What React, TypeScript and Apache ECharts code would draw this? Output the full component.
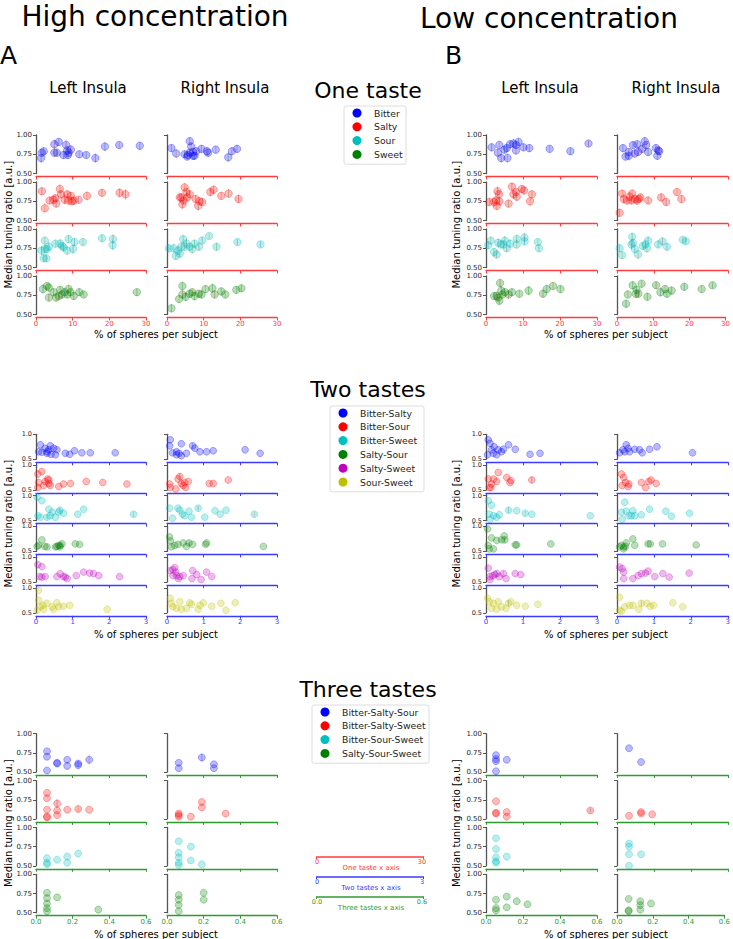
import React, { useEffect, useRef } from "react";
import * as echarts from "echarts";

// ================= DATA =================
// Points: [x (% of spheres per subject), y (median tuning ratio), optional error]

// ---- One taste, high concentration, left insula ----
const oneHL_Bitter = [[1.4,0.70,0.06],[1.6,0.77,0.05],[2.1,0.79,0.05],[5.0,0.88,0.06],[6.2,0.91,0.05],[5.0,0.77,0.06],[5.7,0.77,0.05],[8.2,0.87,0.07],[7.5,0.74,0.05],[8.5,0.80,0.06],[8.9,0.77,0.05],[9.5,0.81,0.06],[8.7,0.74,0.05],[11.8,0.75,0.05],[13.7,0.74,0.04],[16.2,0.70,0.06],[18.8,0.85,0.06],[22.7,0.87,0.05],[28.3,0.86,0.05]];
const oneHL_Salty = [[1.6,0.88,0.05],[2.4,0.66,0.06],[3.7,0.76,0.05],[4.8,0.77,0.06],[5.5,0.72,0.05],[6.5,0.91,0.06],[6.8,0.84,0.05],[7.8,0.77,0.06],[8.5,0.84,0.05],[8.9,0.76,0.06],[9.5,0.82,0.05],[10.3,0.76,0.05],[11.6,0.77,0.04],[13.9,0.82,0.06],[18.0,0.86,0.05],[22.8,0.86,0.06],[24.4,0.84,0.07],[5.3,0.79,0.05],[9.8,0.75,0.05]];
const oneHL_Sour = [[1.5,0.72,0.06],[2.4,0.85,0.05],[2.4,0.74,0.06],[2.8,0.62,0.05],[3.5,0.77,0.06],[5.3,0.81,0.05],[6.6,0.81,0.06],[7.1,0.78,0.05],[7.5,0.76,0.05],[8.5,0.72,0.06],[8.9,0.87,0.05],[10.1,0.74,0.06],[10.5,0.83,0.05],[12.8,0.83,0.05],[18.0,0.88,0.05],[21.0,0.87,0.06],[20.9,0.79,0.06],[3.0,0.74,0.05],[2.1,0.62,0.05]];
const oneHL_Sweet = [[1.9,0.83,0.06],[3.0,0.87,0.05],[3.5,0.85,0.06],[3.5,0.72,0.05],[4.8,0.79,0.05],[5.5,0.72,0.06],[6.6,0.82,0.05],[7.1,0.76,0.06],[7.8,0.79,0.05],[8.9,0.83,0.06],[9.4,0.79,0.05],[10.3,0.74,0.05],[11.8,0.79,0.05],[13.0,0.76,0.04],[27.5,0.79,0.05],[6.2,0.74,0.05],[8.5,0.76,0.05]];
// ---- One taste, high concentration, right insula ----
const oneHR_Bitter = [[1.2,0.83,0.05],[2.5,0.76,0.06],[4.8,0.75,0.05],[5.7,0.74,0.06],[6.2,0.92,0.05],[6.6,0.85,0.06],[6.2,0.77,0.05],[7.1,0.78,0.06],[7.5,0.73,0.05],[8.0,0.79,0.05],[9.4,0.82,0.05],[10.9,0.79,0.06],[11.2,0.77,0.05],[13.3,0.81,0.05],[16.7,0.71,0.06],[17.7,0.79,0.05],[19.1,0.82,0.05],[5.5,0.72,0.05],[7.1,0.73,0.05]];
const oneHR_Salty = [[3.9,0.80,0.05],[4.8,0.93,0.06],[5.3,0.87,0.05],[4.2,0.71,0.06],[4.5,0.76,0.05],[5.5,0.80,0.06],[6.2,0.84,0.05],[7.8,0.78,0.05],[8.5,0.69,0.06],[8.9,0.75,0.05],[9.6,0.74,0.05],[11.8,0.87,0.05],[12.7,0.90,0.05],[14.8,0.82,0.05],[16.8,0.85,0.06],[19.5,0.78,0.05],[3.5,0.80,0.05]];
const oneHR_Sour = [[0.5,0.75,0.05],[1.8,0.75,0.06],[2.4,0.65,0.05],[3.0,0.72,0.06],[3.5,0.68,0.05],[3.9,0.77,0.06],[4.4,0.87,0.05],[5.3,0.81,0.06],[6.2,0.77,0.05],[6.9,0.74,0.06],[7.5,0.81,0.05],[8.7,0.77,0.05],[9.6,0.85,0.05],[11.5,0.91,0.04],[13.5,0.77,0.05],[19.2,0.83,0.04],[25.5,0.80,0.04],[4.8,0.77,0.05]];
const oneHR_Sweet = [[1.2,0.58,0.05],[3.3,0.70,0.05],[4.2,0.87,0.06],[4.2,0.76,0.05],[5.1,0.73,0.06],[6.9,0.79,0.05],[7.5,0.74,0.06],[8.7,0.77,0.05],[9.4,0.76,0.05],[10.5,0.83,0.05],[12.4,0.84,0.06],[13.0,0.76,0.05],[14.8,0.80,0.05],[15.9,0.76,0.05],[18.9,0.82,0.05],[20.3,0.84,0.05],[6.2,0.77,0.05]];
// ---- One taste, low concentration, left insula ----
const oneLL_Bitter = [[1.5,0.84,0.05],[3.6,0.87,0.06],[3.2,0.77,0.05],[4.1,0.70,0.06],[5.0,0.81,0.05],[5.8,0.70,0.06],[6.5,0.88,0.05],[7.4,0.89,0.06],[8.1,0.87,0.05],[8.1,0.80,0.06],[8.8,0.91,0.05],[10.1,0.84,0.05],[11.7,0.83,0.05],[17.2,0.82,0.05],[22.8,0.79,0.05],[27.7,0.89,0.04],[5.6,0.83,0.05]];
const oneLL_Salty = [[0.9,0.74,0.05],[2.2,0.74,0.06],[2.7,0.76,0.05],[3.1,0.88,0.06],[3.5,0.84,0.05],[2.9,0.69,0.06],[6.1,0.72,0.05],[7.0,0.94,0.05],[7.4,0.84,0.06],[8.1,0.87,0.05],[8.3,0.81,0.06],[9.7,0.91,0.05],[10.3,0.89,0.05],[11.9,0.75,0.06],[12.4,0.84,0.05],[3.6,0.75,0.05]];
const oneLL_Sour = [[0.6,0.79,0.05],[1.3,0.85,0.05],[2.2,0.70,0.06],[2.9,0.67,0.05],[3.3,0.82,0.06],[4.0,0.80,0.05],[5.1,0.85,0.06],[5.6,0.75,0.05],[6.5,0.81,0.05],[8.3,0.80,0.06],[8.3,0.87,0.05],[10.4,0.89,0.06],[10.4,0.84,0.05],[14.0,0.83,0.05],[14.3,0.75,0.05],[4.7,0.80,0.05]];
const oneLL_Sweet = [[2.2,0.74,0.05],[2.9,0.74,0.06],[3.6,0.68,0.06],[3.8,0.91,0.05],[4.1,0.81,0.06],[4.5,0.76,0.05],[5.1,0.79,0.05],[6.1,0.76,0.06],[7.0,0.79,0.05],[9.0,0.77,0.05],[11.5,0.81,0.06],[15.4,0.77,0.05],[16.4,0.83,0.05],[18.1,0.87,0.05],[20.1,0.83,0.05],[3.3,0.72,0.05]];
// ---- One taste, low concentration, right insula ----
const oneLR_Bitter = [[1.6,0.83,0.05],[2.3,0.72,0.05],[3.2,0.73,0.06],[3.2,0.78,0.05],[4.3,0.87,0.05],[4.8,0.76,0.06],[5.5,0.88,0.05],[5.7,0.78,0.05],[7.5,0.92,0.05],[7.9,0.87,0.06],[8.4,0.78,0.05],[10.5,0.83,0.05],[10.9,0.73,0.05],[11.1,0.80,0.05],[11.4,0.79,0.05],[6.8,0.82,0.05]];
const oneLR_Salty = [[0.7,0.60,0.05],[1.4,0.85,0.05],[1.8,0.78,0.06],[2.7,0.76,0.05],[3.4,0.81,0.06],[4.1,0.85,0.05],[4.8,0.78,0.05],[5.4,0.76,0.06],[5.9,0.78,0.05],[6.3,0.80,0.05],[8.4,0.76,0.05],[11.9,0.80,0.05],[13.3,0.74,0.05],[16.2,0.87,0.05],[17.4,0.78,0.05],[3.9,0.76,0.05]];
const oneLR_Sour = [[0.7,0.75,0.05],[1.4,0.66,0.05],[4.1,0.90,0.05],[3.9,0.80,0.06],[4.8,0.74,0.05],[5.7,0.67,0.06],[7.0,0.78,0.05],[7.7,0.80,0.05],[8.4,0.85,0.05],[8.1,0.75,0.06],[11.1,0.80,0.05],[12.3,0.84,0.05],[13.5,0.77,0.05],[17.8,0.86,0.04],[18.6,0.84,0.04],[4.3,0.82,0.05]];
const oneLR_Sweet = [[2.5,0.64,0.05],[3.0,0.76,0.05],[4.3,0.88,0.05],[5.2,0.77,0.06],[5.4,0.82,0.05],[6.8,0.90,0.05],[8.4,0.73,0.05],[10.8,0.88,0.05],[12.0,0.79,0.06],[13.3,0.83,0.05],[13.8,0.77,0.05],[15.1,0.81,0.05],[18.6,0.86,0.05],[23.4,0.83,0.05],[26.4,0.88,0.04],[5.9,0.77,0.05]];

// ---- Two tastes, high concentration, left insula ----
const twoHL_BitterSalty = [[0.12,0.79],[0.16,0.64],[0.25,0.72],[0.30,0.62],[0.35,0.69],[0.39,0.77],[0.41,0.60],[0.48,0.72],[0.53,0.59],[0.57,0.69],[0.80,0.62],[0.92,0.60],[1.05,0.67],[1.25,0.63],[1.48,0.63],[2.16,0.63],[0.07,0.65],[0.30,0.65]];
const twoHL_BitterSour = [[0.05,0.82],[0.16,0.87],[0.07,0.65],[0.05,0.55],[0.25,0.67],[0.32,0.72],[0.35,0.63],[0.39,0.59],[0.62,0.57],[0.75,0.62],[0.94,0.63],[1.37,0.67],[1.82,0.65],[2.48,0.62],[0.21,0.59],[0.35,0.70]];
const twoHL_BitterSweet = [[0.03,0.97],[0.16,0.90],[0.05,0.60],[0.12,0.57],[0.35,0.73],[0.39,0.60],[0.44,0.67],[0.53,0.57],[0.62,0.67],[0.65,0.71,0.05],[0.75,0.65],[1.14,0.63],[1.30,0.73],[2.66,0.63,0.05],[0.30,0.57,0.05]];
const twoHL_SaltySour = [[0.07,0.62],[0.16,0.73],[0.24,0.60],[0.30,0.59],[0.57,0.60],[0.62,0.62],[0.66,0.62,0.05],[0.71,0.65],[0.65,0.59],[1.07,0.65],[1.19,0.64],[0.03,0.60],[0.53,0.59]];
const twoHL_SaltySweet = [[0.05,0.85],[0.16,0.81],[0.10,0.61],[0.16,0.60],[0.25,0.61],[0.57,0.61],[0.66,0.67],[0.75,0.61],[0.85,0.57],[0.80,0.60],[1.10,0.63],[1.30,0.70],[1.46,0.68],[1.57,0.67],[1.71,0.63],[2.28,0.61]];
const twoHL_SourSweet = [[0.07,0.95],[0.07,0.75],[0.12,0.62],[0.21,0.57],[0.19,0.65],[0.30,0.69],[0.44,0.62],[0.48,0.57],[0.57,0.70],[0.62,0.62],[0.75,0.63],[0.92,0.65],[1.94,0.57],[0.03,0.55]];
// ---- Two tastes, high concentration, right insula ----
const twoHR_BitterSalty = [[0.09,0.89],[0.07,0.77],[0.15,0.63],[0.26,0.65],[0.39,0.81],[0.33,0.62],[0.39,0.57],[0.53,0.62],[0.70,0.77,0.05],[0.76,0.72],[0.90,0.65],[1.08,0.65],[1.26,0.67],[2.13,0.69],[2.54,0.62],[0.26,0.59]];
const twoHR_BitterSour = [[0.07,0.62],[0.09,0.55],[0.24,0.52],[0.30,0.72],[0.35,0.77,0.06],[0.39,0.63],[0.48,0.65],[0.51,0.55],[0.58,0.67],[1.15,0.63],[1.26,0.63],[1.67,0.70],[0.44,0.59]];
const twoHR_BitterSweet = [[0.07,0.75],[0.15,0.55],[0.30,0.75],[0.35,0.71],[0.42,0.63],[0.48,0.60],[0.60,0.69],[0.67,0.57],[0.85,0.75,0.05],[1.03,0.57],[1.31,0.70],[1.45,0.63],[1.61,0.71],[2.38,0.63,0.05]];
const twoHR_SaltySour = [[0.07,0.79],[0.09,0.71],[0.12,0.59],[0.21,0.62],[0.30,0.64],[0.44,0.67],[0.53,0.60],[0.60,0.67,0.05],[0.70,0.64],[1.05,0.64],[1.08,0.67],[2.63,0.60]];
const twoHR_SaltySweet = [[0.09,0.73],[0.16,0.75],[0.24,0.70],[0.16,0.63],[0.26,0.63],[0.35,0.61],[0.44,0.63],[0.31,0.57],[0.70,0.73],[0.68,0.57],[0.81,0.65],[0.93,0.55],[1.08,0.70],[1.22,0.61],[0.21,0.79]];
const twoHR_SourSweet = [[0.09,0.79],[0.12,0.69],[0.16,0.62],[0.26,0.59],[0.35,0.72],[0.39,0.57],[0.53,0.59],[0.62,0.70],[0.67,0.67],[0.85,0.57],[0.99,0.70],[1.22,0.63],[1.47,0.69],[1.61,0.55],[1.86,0.70],[0.90,0.65]];
// ---- Two tastes, low concentration, left insula ----
const twoLL_BitterSalty = [[0.06,0.89],[0.11,0.82],[0.04,0.59],[0.15,0.69],[0.22,0.75],[0.29,0.59],[0.33,0.69],[0.42,0.65],[0.47,0.70],[0.61,0.79],[0.79,0.70],[1.19,0.60],[1.46,0.62],[0.20,0.62]];
const twoLL_BitterSour = [[0.06,0.72],[0.09,0.55],[0.13,0.55],[0.20,0.72],[0.33,0.85],[0.29,0.67],[0.56,0.75],[0.65,0.65],[0.67,0.69],[1.24,0.70,0.06],[0.15,0.62]];
const twoLL_BitterSweet = [[0.06,0.90],[0.15,0.81],[0.09,0.63],[0.11,0.53],[0.20,0.60],[0.36,0.62],[0.61,0.71,0.06],[0.83,0.70],[1.06,0.65,0.05],[1.24,0.63],[2.82,0.60],[0.29,0.57]];
const twoLL_SaltySour = [[0.04,0.95],[0.15,0.77],[0.06,0.62],[0.09,0.55],[0.29,0.72],[0.42,0.73],[0.49,0.81],[0.51,0.73,0.06],[0.79,0.63],[0.83,0.63],[1.75,0.65],[0.20,0.55]];
const twoLL_SaltySweet = [[0.06,0.78],[0.11,0.61],[0.18,0.63],[0.29,0.67,0.06],[0.24,0.65],[0.36,0.61],[0.47,0.67,0.06],[0.54,0.57],[0.79,0.67],[0.94,0.65],[0.11,0.55]];
const twoLL_SourSweet = [[0.09,0.72],[0.15,0.59],[0.20,0.69],[0.29,0.57],[0.33,0.72],[0.42,0.62],[0.54,0.59],[0.61,0.69,0.06],[0.67,0.72],[0.83,0.65],[1.06,0.63],[1.40,0.67],[0.04,0.79]];
// ---- Two tastes, low concentration, right insula ----
const twoLR_BitterSalty = [[0.07,0.63],[0.16,0.69],[0.25,0.79],[0.30,0.72],[0.34,0.65],[0.48,0.70],[0.61,0.69],[0.68,0.63],[0.88,0.70],[1.08,0.75],[2.04,0.63],[0.21,0.65]];
const twoLR_BitterSour = [[0.12,0.82],[0.18,0.75],[0.14,0.59],[0.23,0.65],[0.30,0.57],[0.32,0.62],[0.66,0.65],[0.77,0.55],[0.86,0.67],[0.92,0.70],[1.06,0.63]];
const twoLR_BitterSweet = [[0.21,0.87],[0.12,0.67],[0.14,0.53],[0.25,0.69],[0.32,0.60],[0.43,0.70],[0.48,0.60],[0.66,0.62],[0.88,0.73],[1.32,0.69],[1.47,0.59],[1.96,0.65],[0.39,0.60]];
const twoLR_SaltySour = [[0.07,0.59],[0.12,0.62],[0.18,0.59],[0.23,0.60],[0.25,0.67],[0.43,0.75],[0.48,0.62],[0.84,0.65],[0.90,0.65],[1.23,0.65],[2.14,0.63],[0.18,0.55]];
const twoLR_SaltySweet = [[0.07,0.80],[0.14,0.77],[0.18,0.70],[0.18,0.57],[0.43,0.57],[0.57,0.63],[0.66,0.67],[0.77,0.68],[0.84,0.72],[1.02,0.61],[1.24,0.67],[1.41,0.60],[1.95,0.68]];
const twoLR_SourSweet = [[0.07,0.81],[0.07,0.55],[0.12,0.53],[0.34,0.65],[0.43,0.65],[0.59,0.57],[0.66,0.69,0.06],[0.81,0.69],[0.90,0.63],[0.99,0.65],[1.51,0.70],[1.78,0.62],[0.21,0.62]];

// ---- Three tastes, high concentration, left insula ----
const threeHL_BSaSo = [[0.06,0.77],[0.06,0.70],[0.06,0.52],[0.115,0.62],[0.115,0.61],[0.17,0.66],[0.17,0.58],[0.23,0.59],[0.23,0.61,0.04],[0.29,0.66,0.07]];
const threeHL_BSaSw = [[0.06,0.84],[0.06,0.77],[0.06,0.62],[0.06,0.53],[0.06,0.52],[0.115,0.70,0.06],[0.115,0.61],[0.115,0.55],[0.17,0.62],[0.23,0.63,0.04],[0.29,0.62]];
const threeHL_BSoSw = [[0.06,0.60],[0.06,0.54],[0.06,0.52],[0.115,0.58],[0.17,0.62],[0.17,0.54],[0.23,0.66]];
const threeHL_SaSoSw = [[0.06,0.76],[0.06,0.69],[0.06,0.62],[0.06,0.56],[0.06,0.52],[0.115,0.70],[0.34,0.54]];
// ---- Three tastes, high concentration, right insula ----
const threeHR_BSaSo = [[0.064,0.62],[0.064,0.55],[0.19,0.69,0.05],[0.256,0.60],[0.256,0.55]];
const threeHR_BSaSw = [[0.064,0.57],[0.064,0.53],[0.064,0.55],[0.13,0.53],[0.19,0.72],[0.19,0.65],[0.32,0.57]];
const threeHR_BSoSw = [[0.064,0.82],[0.064,0.67],[0.064,0.61],[0.064,0.54],[0.064,0.51],[0.13,0.75],[0.13,0.57],[0.19,0.52]];
const threeHR_SaSoSw = [[0.064,0.73],[0.064,0.67],[0.064,0.60],[0.064,0.52],[0.2,0.76],[0.2,0.67]];
// ---- Three tastes, low concentration, left insula ----
const threeLL_BSaSo = [[0.054,0.72],[0.054,0.67],[0.054,0.64],[0.054,0.51],[0.112,0.66]];
const threeLL_BSaSw = [[0.054,0.73],[0.054,0.58],[0.054,0.57],[0.112,0.59],[0.112,0.53],[0.564,0.61,0.03]];
const threeLL_BSoSw = [[0.054,0.86],[0.054,0.72],[0.054,0.61],[0.054,0.56],[0.054,0.54],[0.112,0.62]];
const threeLL_SaSoSw = [[0.054,0.67],[0.054,0.56],[0.054,0.53],[0.112,0.71],[0.112,0.57],[0.166,0.65],[0.224,0.61]];
// ---- Three tastes, low concentration, right insula ----
const threeLR_BSaSo = [[0.065,0.81],[0.13,0.63]];
const threeLR_BSaSw = [[0.065,0.54],[0.13,0.59],[0.13,0.57],[0.19,0.56]];
const threeLR_BSoSw = [[0.065,0.79],[0.065,0.75],[0.065,0.65],[0.065,0.50],[0.13,0.65]];
const threeLR_SaSoSw = [[0.065,0.68],[0.065,0.53],[0.065,0.52],[0.13,0.65],[0.13,0.60],[0.13,0.54],[0.19,0.62]];

// ---- Names, colours, ticks ----
const oneTasteNames = ["Bitter", "Salty", "Sour", "Sweet"];
const twoTasteNames = ["Bitter-Salty", "Bitter-Sour", "Bitter-Sweet", "Salty-Sour", "Salty-Sweet", "Sour-Sweet"];
const threeTasteNames = ["Bitter-Salty-Sour", "Bitter-Salty-Sweet", "Bitter-Sour-Sweet", "Salty-Sour-Sweet"];
const oneTasteColors = ["#0000ff", "#ff0000", "#00bfbf", "#008000"];
const twoTasteColors = ["#0000ff", "#ff0000", "#00bfbf", "#008000", "#bf00bf", "#bfbf00"];
const threeTasteColors = ["#0000ff", "#ff0000", "#00bfbf", "#008000"];
const columnTitles = ["Left Insula", "Right Insula", "Left Insula", "Right Insula"];
const blockTitles = ["One taste", "Two tastes", "Three tastes"];
const xAxisMax = [30, 3, 0.6];
const xAxisStep = [10, 1, 0.2];
const miniAxisTicks = [["0", "30"], ["0", "3"], ["0.0", "0.6"]];
const miniAxisNames = ["One taste x axis", "Two tastes x axis", "Three tastes x axis"];

// ================= LAYOUT =================
const FONT = "DejaVu Sans";
const COLS = [
  { left: 36, width: 110, labels: true },
  { left: 167, width: 110, labels: false },
  { left: 486, width: 111, labels: true },
  { left: 617, width: 111, labels: false },
];
const AXIS_COLORS = ["#ff3b3b", "#3b3bff", "#2f9a2f"];
const BLOCKS = [
  {
    panels: [
      [oneHL_Bitter, oneHL_Salty, oneHL_Sour, oneHL_Sweet],
      [oneHR_Bitter, oneHR_Salty, oneHR_Sour, oneHR_Sweet],
      [oneLL_Bitter, oneLL_Salty, oneLL_Sour, oneLL_Sweet],
      [oneLR_Bitter, oneLR_Salty, oneLR_Sour, oneLR_Sweet],
    ],
    names: oneTasteNames, colors: oneTasteColors,
    top: 135, step: 47, h: 38.5, yInt: 0.25, yDec: 2, xDec: 0, size: 7.5, yFont: 7,
    titleY: 90, legendTop: 106, legendX: 344, legendW: 62, xNameY: 334,
  },
  {
    panels: [
      [twoHL_BitterSalty, twoHL_BitterSour, twoHL_BitterSweet, twoHL_SaltySour, twoHL_SaltySweet, twoHL_SourSweet],
      [twoHR_BitterSalty, twoHR_BitterSour, twoHR_BitterSweet, twoHR_SaltySour, twoHR_SaltySweet, twoHR_SourSweet],
      [twoLL_BitterSalty, twoLL_BitterSour, twoLL_BitterSweet, twoLL_SaltySour, twoLL_SaltySweet, twoLL_SourSweet],
      [twoLR_BitterSalty, twoLR_BitterSour, twoLR_BitterSweet, twoLR_SaltySour, twoLR_SaltySweet, twoLR_SourSweet],
    ],
    names: twoTasteNames, colors: twoTasteColors,
    top: 434.3, step: 30.7, h: 25, yInt: 0.5, yDec: 1, xDec: 0, size: 6.8, yFont: 6.5,
    titleY: 389, legendTop: 406, legendX: 330, legendW: 94, xNameY: 634,
  },
  {
    panels: [
      [threeHL_BSaSo, threeHL_BSaSw, threeHL_BSoSw, threeHL_SaSoSw],
      [threeHR_BSaSo, threeHR_BSaSw, threeHR_BSoSw, threeHR_SaSoSw],
      [threeLL_BSaSo, threeLL_BSaSw, threeLL_BSoSw, threeLL_SaSoSw],
      [threeLR_BSaSo, threeLR_BSaSw, threeLR_BSoSw, threeLR_SaSoSw],
    ],
    names: threeTasteNames, colors: threeTasteColors,
    top: 733.7, step: 46.9, h: 38.3, yInt: 0.25, yDec: 2, xDec: 1, size: 7, yFont: 7,
    titleY: 689, legendTop: 705, legendX: 312, legendW: 117, xNameY: 934,
  },
];
const ERR_COLORS = ["#1f77b4", "#ff7f0e", "#2ca02c", "#d62728"];

function rgba(hex: string, a: number) {
  const n = parseInt(hex.slice(1), 16);
  return `rgba(${(n >> 16) & 255},${(n >> 8) & 255},${n & 255},${a})`;
}

function buildOption() {
  const grid: any[] = [];
  const xAxis: any[] = [];
  const yAxis: any[] = [];
  const series: any[] = [];
  const graphic: any[] = [];

  const text = (x: number, y: number, t: string, size: number, extra: any = {}, el: any = {}) => ({
    type: "text", x, y, ...el,
    style: { text: t, fontSize: size, fontFamily: FONT, fill: "#000", align: "center", verticalAlign: "middle", ...extra },
  });

  BLOCKS.forEach((b, bi) => {
    const nRows = b.names.length;
    const axisColor = AXIS_COLORS[bi];
    COLS.forEach((c, ci) => {
      for (let r = 0; r < nRows; r++) {
        const idx = grid.length;
        const isLast = r === nRows - 1;
        grid.push({ left: c.left, width: c.width, top: b.top + r * b.step, height: b.h, containLabel: false });
        xAxis.push({
          type: "value", gridIndex: idx, min: 0, max: xAxisMax[bi], interval: xAxisStep[bi], offset: 3,
          axisLine: { show: true, lineStyle: { color: axisColor, width: 1.3 } },
          axisTick: { show: true, length: 3, lineStyle: { color: axisColor, width: 1 } },
          axisLabel: {
            show: isLast, color: axisColor, fontSize: 7, fontFamily: FONT, margin: 3,
            formatter: (v: number) => v.toFixed(b.xDec),
          },
          splitLine: { show: false },
        });
        yAxis.push({
          type: "value", gridIndex: idx, min: 0.5, max: 1.0, interval: c.labels ? b.yInt : 0.5,
          axisLine: { show: true, lineStyle: { color: "#555555", width: 1.3 } },
          axisTick: { show: true, length: 3, lineStyle: { color: "#555555", width: 1 } },
          axisLabel: {
            show: c.labels, color: "#262626", fontSize: b.yFont, fontFamily: FONT, margin: 4,
            formatter: (v: number) => v.toFixed(b.yDec),
          },
          splitLine: { show: false },
        });
        const pts = b.panels[ci][r];
        const color = b.colors[r];
        const errPts = pts.filter((p) => p.length > 2);
        if (errPts.length) {
          series.push({
            type: "custom", xAxisIndex: idx, yAxisIndex: idx, z: 1,
            data: errPts, encode: { x: 0, y: 1 },
            renderItem: (params: any, api: any) => {
              const x = api.value(0), y = api.value(1), e = api.value(2);
              const p1 = api.coord([x, y - e]);
              const p2 = api.coord([x, y + e]);
              return {
                type: "line",
                shape: { x1: p1[0], y1: p1[1], x2: p2[0], y2: p2[1] },
                style: { stroke: ERR_COLORS[params.dataIndex % ERR_COLORS.length], opacity: 0.38, lineWidth: 1 },
              };
            },
          });
        }
        series.push({
          type: "scatter", name: b.names[r], xAxisIndex: idx, yAxisIndex: idx, z: 2,
          data: pts.map((p) => [p[0], p[1]]),
          symbol: "circle", symbolSize: b.size, clip: false,
          itemStyle: { color: rgba(color, 0.34), borderColor: rgba(color, 0.45), borderWidth: 0.8 },
          emphasis: { disabled: true },
        });
      }
    });

    // block title
    graphic.push(text(368, b.titleY, blockTitles[bi], 22));
    // legend
    const lh = 13.8;
    const boxH = nRows * lh + 3;
    graphic.push({
      type: "rect", shape: { x: b.legendX, y: b.legendTop, width: b.legendW, height: boxH, r: 2 },
      style: { fill: "#ffffff", stroke: "#dddddd", lineWidth: 1 },
    });
    b.names.forEach((nm, i) => {
      const cy = b.legendTop + 7 + i * lh;
      graphic.push({ type: "circle", shape: { cx: b.legendX + 13, cy, r: 4.5 }, style: { fill: b.colors[i] } });
      graphic.push(text(b.legendX + 30, cy, nm, 9.3, { align: "left", fill: "#262626" }));
    });
    // y-axis names
    const yc = b.top + ((nRows - 1) * b.step + b.h) / 2;
    graphic.push(text(8, yc, "Median tuning ratio [a.u.]", 10, {}, { rotation: Math.PI / 2 }));
    graphic.push(text(456, yc, "Median tuning ratio [a.u.]", 10, {}, { rotation: Math.PI / 2 }));
    // x-axis names
    graphic.push(text(156, b.xNameY, "% of spheres per subject", 10));
    graphic.push(text(606, b.xNameY, "% of spheres per subject", 10));
  });

  // headers
  graphic.push(text(155, 16, "High concentration", 28));
  graphic.push(text(549, 18, "Low concentration", 28));
  graphic.push(text(0, 55, "A", 25, { align: "left" }));
  graphic.push(text(445, 55, "B", 25, { align: "left" }));
  [88, 225, 540, 676].forEach((x, i) => graphic.push(text(x, 88, columnTitles[i], 15)));

  // mini x-axis legend
  [857, 877, 897].forEach((y, i) => {
    const col = AXIS_COLORS[i];
    graphic.push({ type: "line", shape: { x1: 316, y1: y, x2: 424, y2: y }, style: { stroke: col, lineWidth: 1.5 } });
    graphic.push({ type: "line", shape: { x1: 316.5, y1: y, x2: 316.5, y2: y + 2 }, style: { stroke: col, lineWidth: 1 } });
    graphic.push({ type: "line", shape: { x1: 423.5, y1: y, x2: 423.5, y2: y + 2 }, style: { stroke: col, lineWidth: 1 } });
    graphic.push(text(317, y + 5, miniAxisTicks[i][0], 6.5, { fill: col }));
    graphic.push(text(422, y + 5, miniAxisTicks[i][1], 6.5, { fill: col }));
    graphic.push(text(371, y + 11, miniAxisNames[i], 7, { fill: col }));
  });

  return { animation: false, backgroundColor: "#ffffff", grid, xAxis, yAxis, series, graphic };
}

export default function App() {
  const ref = useRef<HTMLDivElement>(null);
  useEffect(() => {
    if (!ref.current) return;
    const chart = echarts.init(ref.current, undefined, { renderer: "svg" });
    chart.setOption(buildOption() as any);
    return () => chart.dispose();
  }, []);
  return <div ref={ref} style={{ position: "absolute", left: 0, top: 0, width: 733, height: 939 }} />;
}
